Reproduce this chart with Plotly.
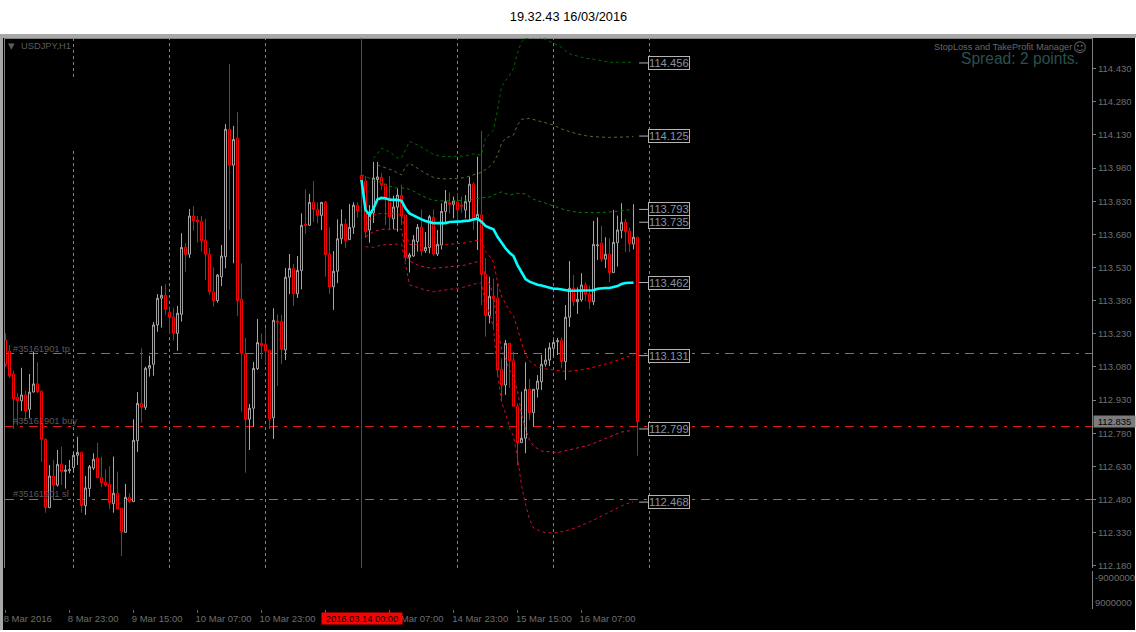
import plotly.graph_objects as go

bars = list(range(1, 160))
highs = [113.233,113.179,113.063,112.961,113.076,112.971,113.048,113.149,113.101,112.971,
112.757,112.636,112.659,112.704,112.719,112.636,112.659,112.695,112.764,112.693,
112.586,112.636,112.689,112.737,112.674,112.616,112.631,112.674,112.606,112.440,
112.550,112.508,112.843,112.966,113.164,113.081,113.131,113.283,113.410,113.446,
113.455,113.347,113.347,113.356,113.685,113.640,113.795,113.808,113.763,113.763,
113.750,113.618,113.531,113.501,113.632,114.180,114.451,114.171,114.234,113.549,
113.211,112.912,113.102,113.297,113.232,113.255,113.156,113.345,113.318,113.315,
113.528,113.591,113.546,113.582,113.775,113.885,113.863,113.922,113.825,113.825,
113.831,113.712,113.605,113.748,113.793,113.750,113.817,113.825,113.825,113.962,
113.944,113.813,114.008,114.008,113.958,113.908,113.944,113.855,113.889,113.904,
113.768,113.596,113.677,113.727,113.793,113.691,113.768,113.793,113.700,113.821,
113.881,113.870,113.851,113.866,113.851,113.858,113.941,113.916,114.032,114.148,
113.572,113.488,113.481,113.458,113.119,113.202,113.187,113.149,112.915,112.968,
113.101,113.025,112.979,113.043,113.134,113.164,113.190,113.202,113.212,113.212,
113.360,113.559,113.496,113.440,113.504,113.463,113.448,113.741,113.757,113.719,
113.667,113.662,113.790,113.765,113.821,113.750,113.710,113.816,113.667]
opens = [113.202,113.152,113.048,112.942,112.927,112.953,112.888,112.966,113.003,112.971,
112.752,112.443,112.586,112.545,112.639,112.607,112.610,112.624,112.680,112.693,
112.452,112.529,112.622,112.668,112.580,112.558,112.549,112.461,112.508,112.440,
112.331,112.490,112.470,112.746,112.915,112.897,113.074,113.092,113.270,113.391,
113.404,113.327,113.305,113.232,113.318,113.621,113.590,113.763,113.745,113.739,
113.653,113.590,113.420,113.380,113.488,113.579,114.156,113.993,114.115,113.386,
113.138,112.843,112.893,113.072,113.187,113.182,113.155,112.850,113.288,113.286,
113.157,113.486,113.526,113.411,113.517,113.727,113.721,113.825,113.793,113.766,
113.825,113.590,113.443,113.513,113.660,113.726,113.656,113.712,113.812,113.947,
113.922,113.700,113.777,113.928,113.938,113.907,113.845,113.750,113.803,113.856,
113.768,113.576,113.582,113.647,113.712,113.606,113.620,113.757,113.591,113.632,
113.783,113.823,113.816,113.828,113.813,113.790,113.828,113.907,113.753,113.768,
113.499,113.312,113.400,113.391,113.069,112.998,113.187,113.108,112.902,112.737,
112.757,112.979,112.873,112.979,113.013,113.092,113.111,113.164,113.194,113.199,
113.104,113.305,113.436,113.375,113.383,113.451,113.410,113.375,113.629,113.640,
113.568,113.590,113.507,113.642,113.697,113.735,113.695,113.636,113.667]
closes = [113.089,113.039,112.935,112.927,112.953,112.880,112.966,113.003,112.968,112.752,
112.443,112.586,112.545,112.639,112.606,112.613,112.616,112.680,112.693,112.452,
112.532,112.628,112.662,112.578,112.556,112.544,112.465,112.508,112.437,112.334,
112.490,112.470,112.748,112.915,112.897,113.074,113.086,113.270,113.391,113.404,
113.341,113.305,113.232,113.323,113.621,113.590,113.763,113.742,113.737,113.651,
113.590,113.420,113.380,113.496,113.582,114.156,113.993,114.110,113.380,113.142,
112.843,112.893,113.073,113.190,113.176,113.153,112.845,113.291,113.283,113.160,
113.486,113.526,113.411,113.517,113.721,113.721,113.825,113.793,113.766,113.825,
113.588,113.443,113.513,113.660,113.726,113.651,113.712,113.812,113.787,113.922,
113.691,113.777,113.935,113.940,113.904,113.843,113.759,113.804,113.858,113.763,
113.579,113.587,113.655,113.712,113.606,113.621,113.760,113.591,113.635,113.784,
113.828,113.816,113.831,113.790,113.808,113.828,113.907,113.745,113.771,113.499,
113.312,113.400,113.389,113.066,112.998,113.187,113.108,112.902,112.737,112.757,
112.979,112.873,112.979,113.016,113.092,113.111,113.167,113.191,113.199,113.104,
113.305,113.436,113.375,113.386,113.451,113.409,113.375,113.635,113.632,113.568,
113.590,113.507,113.644,113.700,113.735,113.692,113.638,113.667,112.832]
lows = [113.080,113.030,112.799,112.817,112.880,112.840,112.847,112.966,112.961,112.651,
112.420,112.443,112.481,112.538,112.545,112.529,112.598,112.601,112.636,112.420,
112.410,112.492,112.613,112.576,112.535,112.538,112.437,112.420,112.437,112.224,
112.331,112.465,112.470,112.695,112.827,112.885,113.036,113.040,113.239,113.258,
113.315,113.228,113.199,113.153,113.285,113.511,113.573,113.697,113.642,113.602,
113.473,113.406,113.353,113.371,113.446,113.526,113.700,113.549,113.310,112.877,
112.601,112.704,112.809,113.066,113.116,113.089,112.799,112.754,112.994,113.093,
113.111,113.410,113.357,113.392,113.431,113.682,113.718,113.736,113.730,113.700,
113.488,113.410,113.338,113.459,113.636,113.618,113.655,113.682,113.757,113.881,
113.664,113.642,113.731,113.836,113.881,113.722,113.704,113.704,113.692,113.722,
113.559,113.507,113.578,113.602,113.583,113.596,113.594,113.583,113.582,113.612,
113.730,113.775,113.753,113.737,113.777,113.753,113.745,113.700,113.609,113.360,
113.217,113.277,113.255,113.036,112.923,112.953,112.986,112.902,112.633,112.737,
112.689,112.840,112.809,112.941,112.975,113.081,113.084,113.126,113.134,113.074,
113.021,113.261,113.356,113.320,113.375,113.378,113.342,113.360,113.564,113.556,
113.528,113.463,113.507,113.534,113.662,113.599,113.599,113.612,112.678]

ma_bars = list(range(90, 159))
ma_values = [113.926,113.790,113.768,113.798,113.839,113.845,113.843,113.837,113.836,113.836,
113.832,113.798,113.775,113.765,113.757,113.748,113.741,113.735,113.731,113.731,
113.731,113.731,113.736,113.736,113.736,113.739,113.741,113.742,113.748,113.751,
113.737,113.718,113.710,113.703,113.669,113.640,113.617,113.597,113.582,113.541,
113.511,113.478,113.466,113.458,113.452,113.449,113.443,113.439,113.434,113.434,
113.431,113.425,113.425,113.425,113.425,113.425,113.425,113.425,113.427,113.434,
113.437,113.437,113.437,113.440,113.446,113.455,113.460,113.461,113.461]

upper3_bars = [93,95,97,99,100,102,104,106,108,110,112,114,116,118,120,121,123,124,125,127,128,129,130,131,134,136,138,140,142,144,146,148,150,152,154,156,158]
upper3 = [114.024,114.070,114.054,114.026,114.026,114.100,114.085,114.062,114.042,114.032,114.032,114.032,114.035,114.044,114.039,114.116,114.152,114.243,114.349,114.401,114.432,114.500,114.552,114.568,114.572,114.563,114.545,114.527,114.497,114.487,114.477,114.473,114.466,114.459,114.459,114.459,114.459]
upper2_bars = [94,96,98,100,101,102,104,106,108,110,112,114,116,118,120,122,123,124,125,126,128,129,130,132,134,136,138,140,142,144,146,148,152,156,158]
upper2 = [113.994,113.982,113.968,113.949,113.986,114.002,113.979,113.956,113.938,113.931,113.932,113.932,113.938,113.949,113.961,113.986,114.006,114.039,114.092,114.115,114.130,114.175,114.201,114.205,114.195,114.186,114.175,114.157,114.145,114.134,114.127,114.122,114.119,114.122,114.122]
upper1_bars = [90,92,95,97,99,101,103,105,107,109,112,115,117,120,122,124,125,127,129,131,133,135,137,139,141,144,148,152,156,158]
upper1 = [113.949,113.934,113.911,113.899,113.889,113.890,113.876,113.855,113.840,113.832,113.831,113.832,113.836,113.845,113.849,113.866,113.872,113.858,113.866,113.863,113.839,113.827,113.814,113.803,113.790,113.780,113.778,113.781,113.790,113.793]
lower1_bars = [91,93,95,97,99,100,101,102,104,106,108,110,112,114,116,118,120,121,122,123,124,125,126,127,128,129,130,131,132,134,136,138,141,144,147,151,154,156,158]
lower1 = [113.722,113.768,113.775,113.775,113.772,113.771,113.685,113.635,113.632,113.632,113.629,113.631,113.635,113.640,113.642,113.650,113.655,113.602,113.582,113.555,113.464,113.401,113.369,113.333,113.310,113.256,113.188,113.138,113.107,113.080,113.071,113.066,113.059,113.064,113.074,113.093,113.111,113.123,113.134]
lower2_bars = [91,93,95,97,99,100,101,102,104,106,108,110,112,114,116,118,120,121,122,123,124,125,126,127,128,129,130,131,132,133,135,139,144,147,150,153,155,158]
lower2 = [113.669,113.692,113.703,113.703,113.703,113.703,113.587,113.559,113.541,113.531,113.526,113.529,113.534,113.537,113.541,113.552,113.561,113.487,113.455,113.406,113.261,113.161,113.120,113.066,113.039,112.971,112.867,112.799,112.749,112.722,112.699,112.692,112.713,112.726,112.749,112.769,112.785,112.794]
lower3_bars = [91,93,95,97,99,100,101,102,104,106,108,110,112,114,116,118,120,121,122,123,124,125,126,127,128,129,130,131,132,133,135,138,141,144,147,150,153,156,158]
lower3 = [113.624,113.621,113.632,113.635,113.636,113.636,113.549,113.451,113.440,113.428,113.420,113.425,113.428,113.436,113.443,113.455,113.461,113.369,113.324,113.256,113.052,112.921,112.871,112.803,112.767,112.668,112.545,112.459,112.391,112.351,112.333,112.327,112.337,112.355,112.378,112.405,112.432,112.459,112.470]

level_prices = [114.456,114.125,113.793,113.735,113.462,113.131,112.799,112.468]
order_labels = ["#35161901 tp","#35161901 buy","#35161901 sl"]
order_prices = [113.1407,112.8103,112.4798]
order_colors = ["#f04a12","#e01c1c","#f04a12"]

price_ticks = [114.430,114.280,114.130,113.980,113.830,113.680,113.530,113.380,113.230,113.080,112.930,112.780,112.630,112.480,112.330,112.180]
sub_ticks = [-9000000, 9000000]
time_label_centers = [6.55,22.9,38.9,55.5,71.5,103.5,119.67,135.6,151.5]
time_labels = ["8 Mar 2016","8 Mar 23:00","9 Mar 15:00","10 Mar 07:00","10 Mar 23:00","14 Mar 07:00","14 Mar 23:00","15 Mar 15:00","16 Mar 07:00"]
time_tick_bars = [1,17,33,49,65,81,97,113,129,145]
grid_bars = [42,66,114,138,162]

FONT = "Liberation Sans"
L, R, T, B, MAIN_B, SUB_T = 5, 1092, 38, 609, 568, 571
W, H = R - L, B - T
px = lambda v: (v - L) / W
py = lambda v: (B - v) / H
gray = "#a6a6a6"

fig = go.Figure()
fig.add_trace(go.Candlestick(
    x=bars, open=opens, high=highs, low=lows, close=closes, whiskerwidth=0,
    increasing=dict(line=dict(color=gray, width=1), fillcolor="#000000"),
    decreasing=dict(line=dict(color="#ff0000", width=1), fillcolor="#000000"),
    showlegend=False, hoverinfo="skip"))

bands = [(upper3_bars, upper3, "#006400"), (upper2_bars, upper2, "#556b2f"), (upper1_bars, upper1, "#008000"),
         (lower1_bars, lower1, "#ff0000"), (lower2_bars, lower2, "#dc143c"), (lower3_bars, lower3, "#c81030")]
for xs, ys, col in bands:
    fig.add_trace(go.Scatter(x=xs, y=ys, mode="lines", line=dict(color=col, width=1, dash="3px,3px"),
                             showlegend=False, hoverinfo="skip"))
fig.add_trace(go.Scatter(x=ma_bars, y=ma_values, mode="lines", line=dict(color="#00ffff", width=2.6),
                         showlegend=False, hoverinfo="skip"))
for p in level_prices:
    fig.add_trace(go.Scatter(x=[159.4, 162], y=[p, p], mode="lines", line=dict(color="#b0b0b0", width=1),
                             showlegend=False, hoverinfo="skip"))
fig.add_trace(go.Scatter(x=[1], y=[0], yaxis="y2", mode="markers", marker=dict(opacity=0),
                         showlegend=False, hoverinfo="skip"))

def rect(x0, y0, x1, y1, col):
    return dict(type="rect", xref="paper", yref="paper", x0=px(x0), x1=px(x1), y0=py(y0), y1=py(y1),
                fillcolor=col, line=dict(width=0), layer="below")

shapes = [rect(3, 38, 1135, 630, "#000000"), rect(0, 34, 1136, 38, "#a8a8a8"), rect(0, 34, 3, 630, "#a8a8a8"),
          rect(4, 38, 5, 568, "#808080"), rect(5, 38, 1092, 39, "#808080")]
grid_line = dict(color="#808080", width=1, dash="3px,3px")
for k in grid_bars:
    shapes.append(dict(type="line", xref="x", yref="y domain", x0=k, x1=k, y0=0, y1=1, line=grid_line, layer="below"))
main_dom = lambda v: (MAIN_B - v) / (MAIN_B - T)
shapes.append(dict(type="line", xref="x", yref="y domain", x0=18, x1=18, y0=main_dom(77), y1=1, line=grid_line, layer="below"))
shapes.append(dict(type="line", xref="x", yref="y domain", x0=18, x1=18, y0=0, y1=main_dom(148), line=grid_line, layer="below"))
shapes.append(dict(type="line", xref="x", yref="y domain", x0=90, x1=90, y0=0, y1=1,
                   line=dict(color="#ff0000", width=1), layer="below"))
for p, c in zip(order_prices, order_colors):
    shapes.append(dict(type="line", xref="paper", yref="y", x0=0, x1=1, y0=p, y1=p,
                       line=dict(color=c, width=1, dash="9px,6px,3px,6px"), layer="below"))

ann = []
for p in level_prices:
    ann.append(dict(xref="x", yref="y", x=161.7, y=p, xanchor="left", yanchor="middle", text=f"{p:.3f}", showarrow=False,
                    font=dict(family=FONT, size=11.2, color="#8794a0"), bordercolor="#b4b4b4", borderwidth=1, borderpad=0,
                    bgcolor="#000000"))
for t, p in zip(order_labels, order_prices):
    ann.append(dict(xref="paper", yref="y", x=px(10.5), y=p, yshift=5, xanchor="left", yanchor="middle", text=t, showarrow=False,
                    font=dict(family=FONT, size=9.3, color="#5a5a5a")))
ann += [
    dict(xref="paper", yref="paper", x=px(18.5), y=py(46), xanchor="left", yanchor="middle", text="USDJPY,H1", showarrow=False,
         font=dict(family=FONT, size=9.3, color="#5c5c5c")),
    dict(xref="paper", yref="paper", x=px(6), y=py(46), xanchor="left", yanchor="middle", text="▾", showarrow=False,
         font=dict(family="DejaVu Sans", size=13, color="#5c5c5c")),
    dict(xref="paper", yref="paper", x=px(1074), y=py(47), xanchor="right", yanchor="middle", text="StopLoss and TakeProfit Manager", showarrow=False,
         font=dict(family=FONT, size=9.2, color="#666666")),
    dict(xref="paper", yref="paper", x=px(1089), y=py(47), xanchor="right", yanchor="middle", text="☺", showarrow=False,
         font=dict(family="DejaVu Sans", size=13, color="#666666")),
    dict(xref="paper", yref="paper", x=px(1081), y=py(58.5), xanchor="right", yanchor="middle", text="Spread: 2 points.", showarrow=False,
         font=dict(family=FONT, size=15.6, color="#2a5050")),
    dict(xref="paper", yref="y", x=px(1093), y=112.835, xanchor="left", yanchor="middle", text="112.835", showarrow=False,
         font=dict(family=FONT, size=9.5, color="#000000"), bgcolor="#7c7c7c", width=41, height=11, align="center", borderpad=0),
    dict(xref="paper", yref="paper", x=px(321), y=py(618.3), xanchor="left", yanchor="middle", text="2016.03.14 00:00", showarrow=False,
         font=dict(family=FONT, size=9.3, color="#000000"), bgcolor="#ff0000", width=80, height=11, align="center", borderpad=0),
]

tickfont = dict(family=FONT, size=9.5, color="#6e6e6e")
fig.update_layout(
    width=1136, height=632, margin=dict(l=L, r=1136 - R, t=T, b=632 - B, autoexpand=False),
    paper_bgcolor="#ffffff", plot_bgcolor="rgba(0,0,0,0)", showlegend=False, hovermode=False,
    title=dict(text="19.32.43 16/03/2016", x=568.5 / 1136, xanchor="center", xref="container", y=1 - 17 / 632, yref="container", yanchor="middle", automargin=False,
               font=dict(family=FONT, size=12.8, color="#000000")),
    boxgap=0.3, boxgroupgap=0.3,
    shapes=shapes, annotations=ann,
    xaxis=dict(domain=[0, 1], range=[(L - 1.5) / 4, (R - 1.5) / 4], anchor="y2", showgrid=False, zeroline=False, showline=False,
               automargin=False, rangeslider=dict(visible=False), tickmode="array", tickvals=time_label_centers, ticktext=time_labels,
               ticks="", tickfont=tickfont, ticklabelstandoff=2,
               minor=dict(tickmode="array", tickvals=time_tick_bars, ticks="outside", ticklen=3, tickcolor="#666666", tickwidth=1, showgrid=False)),
    yaxis=dict(domain=[py(MAIN_B), 1], range=[114.741 - MAIN_B * 0.004527, 114.741 - T * 0.004527], side="right", anchor="x",
               automargin=False, showgrid=False, zeroline=False, showline=True, linecolor="#808080", linewidth=1,
               tickmode="array", tickvals=price_ticks, ticktext=[f"{v:.3f}" for v in price_ticks],
               ticks="outside", ticklen=3, tickcolor="#808080", tickfont=tickfont),
    yaxis2=dict(domain=[0, py(SUB_T)], range=[13.9e6, -13.9e6], side="right", anchor="x",
                automargin=False, showgrid=False, zeroline=False, showline=True, linecolor="#808080", linewidth=1,
                tickmode="array", tickvals=sub_ticks, ticktext=["-9000000", "9000000"], ticks="",
                tickfont=tickfont),
)
fig.write_html("out.html", post_script="document.body.style.margin='0';", config={"displayModeBar": False})
